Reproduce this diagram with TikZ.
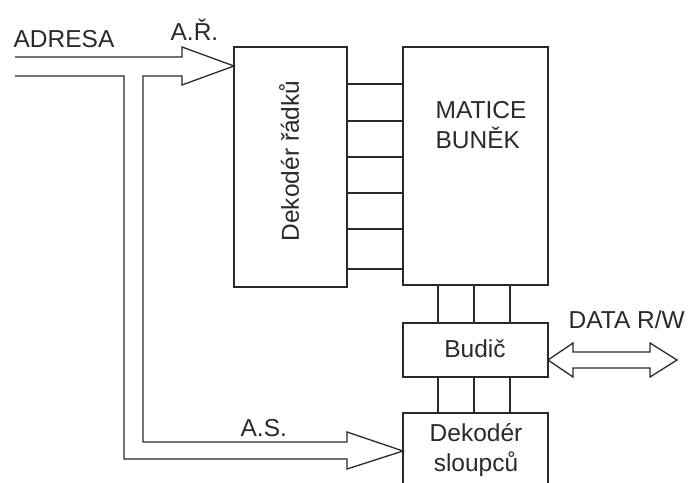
\documentclass[tikz,border=0pt]{standalone}
\usepackage{fontspec}
\setmainfont{Liberation Sans}
\definecolor{ink}{HTML}{2A2A2A}
\begin{document}
\begin{tikzpicture}[x=1pt,y=-1pt,line width=1.3pt,draw=ink,
  box/.style={draw=ink,rectangle,inner sep=0pt,outer sep=0pt,anchor=north west},
  lbl/.style={text=ink,inner sep=0pt,font=\fontsize{24.5}{30}\selectfont},
  wire/.style={draw=ink,line width=1.3pt},
  bus/.style={draw=ink,line width=1.3pt,line join=miter}]
\useasboundingbox (0,0) rectangle (688,482);
% boxes
\node[box,minimum width=113pt,minimum height=240pt] (dec) at (234,47) {};
\node[box,minimum width=145pt,minimum height=238pt] (mat) at (403,47) {};
\node[box,minimum width=145pt,minimum height=54pt] (bud) at (403,323) {};
\node[box,minimum width=145pt,minimum height=90pt] (dcol) at (403,413) {};
% labels
\node[lbl,rotate=90] (tdec) at (289,161) {Dekodér řádků};
\node[lbl,align=left,anchor=base west] (tmat) at (435,148) {MATICE\\BUNĚK};
\node[lbl,anchor=base] (tbud) at (475,357) {Budič};
\node[lbl,align=center,anchor=base] (tdcol) at (476,471) {Dekodér\\sloupců};
\node[lbl,anchor=base west] (tadr) at (13,47) {ADRESA};
\node[lbl,anchor=base west] (tar) at (170,40) {A.Ř.};
\node[lbl,anchor=base west] (tas) at (240,436) {A.S.};
\node[lbl,anchor=base west] (tdata) at (568,328) {DATA R/W};
% row lines
\foreach \yy in {84,121,157,193,229,269}
  \draw[wire] (dec.east |- 0,\yy) -- (mat.west |- 0,\yy);
% column lines
\foreach \xx in {438,474,510}{
  \draw[wire] (\xx,0 |- mat.south) -- (\xx,0 |- bud.north);
  \draw[wire] (\xx,0 |- bud.south) -- (\xx,0 |- dcol.north);
}
% address bus
\coordinate (tipR) at (dec.west |- 0,66);
\coordinate (tipS) at (dcol.west |- 0,451);
\draw[bus] (15,76) -- (124,76) -- (124,459) -- (347,459) -- (347,469)
  -- (tipS) -- (347,432) -- (347,442) -- (143,442) -- (143,76)
  -- (182,76) -- (182,85) -- (tipR) -- (182,47) -- (182,57) -- (15,57);
% data bus
\coordinate (tipD) at (bud.east |- 0,360);
\draw[bus] (tipD) -- (573,343) -- (573,352) -- (650,352) -- (650,343)
  -- (677,360) -- (650,377) -- (650,368) -- (573,368) -- (573,377) -- cycle;
\end{tikzpicture}
\end{document}
